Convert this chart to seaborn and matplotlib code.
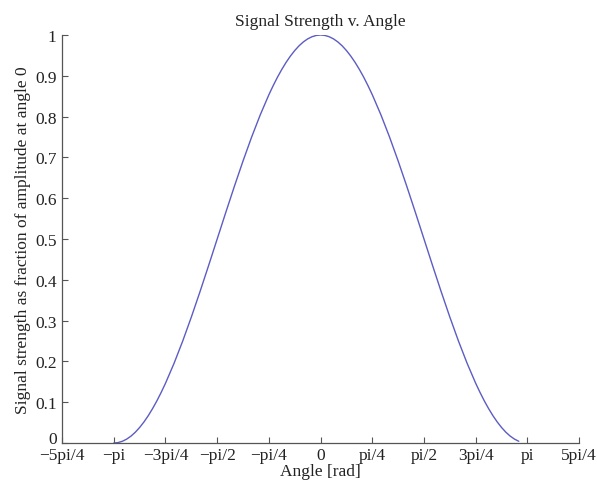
import numpy as np
import pandas as pd
import matplotlib
matplotlib.use("Agg")
import matplotlib.pyplot as plt
import matplotlib.transforms as mtransforms
import seaborn as sns

# Measured signal strength against angle (degrees); denser sampling
# where the curve bends most sharply
angle_deg = [-180, -176.25, -172.5, -168.75, -165, -161.25, -157.5, -153.75,
             -150, -146.25, -142.5, -138.75, -135,
             -127.5, -120, -112.5, -105, -97.5, -90, -82.5, -75, -67.5, -60,
             -52.5, -45,
             -41.25, -37.5, -33.75, -30, -26.25, -22.5, -18.75, -15, -11.25,
             -7.5, -3.75, 0,
             3.75, 7.5, 11.25, 15, 18.75, 22.5, 26.25, 30, 33.75, 37.5, 41.25, 45,
             52.5, 60, 67.5, 75, 82.5, 90, 97.5, 105, 112.5, 120, 127.5, 135,
             138.75, 142.5, 146.25, 150, 153.75, 157.5, 161.25, 165, 168.75, 172.5]
strength = [0.0, 0.0011, 0.0043, 0.0096, 0.0170, 0.0265, 0.0381, 0.0516,
            0.0670, 0.0843, 0.1033, 0.1241, 0.1464,
            0.1956, 0.25, 0.3087, 0.3706, 0.4347, 0.5, 0.5653, 0.6294, 0.6913, 0.75,
            0.8044, 0.8536,
            0.8759, 0.8967, 0.9157, 0.9330, 0.9484, 0.9619, 0.9735, 0.9830, 0.9904,
            0.9957, 0.9989, 1.0,
            0.9989, 0.9957, 0.9904, 0.9830, 0.9735, 0.9619, 0.9484, 0.9330, 0.9157,
            0.8967, 0.8759, 0.8536,
            0.8044, 0.75, 0.6913, 0.6294, 0.5653, 0.5, 0.4347, 0.3706, 0.3087, 0.25,
            0.1956, 0.1464,
            0.1241, 0.1033, 0.0843, 0.0670, 0.0516, 0.0381, 0.0265, 0.0170, 0.0096,
            0.0043]

x_tick_quarters = [-5, -4, -3, -2, -1, 0, 1, 2, 3, 4, 5]
x_tick_labels = ["\u22125pi/4", "\u2212pi", "\u22123pi/4", "\u2212pi/2", "\u2212pi/4",
                 "0", "pi/4", "pi/2", "3pi/4", "pi", "5pi/4"]
y_ticks = [0, 0.1, 0.2, 0.3, 0.4, 0.5, 0.6, 0.7, 0.8, 0.9, 1]
y_tick_labels = ["0", "0.1", "0.2", "0.3", "0.4", "0.5", "0.6", "0.7", "0.8", "0.9", "1"]

df = pd.DataFrame({"angle": np.deg2rad(angle_deg), "strength": strength})

sns.set_style("ticks")
plt.rcParams["font.family"] = ["Liberation Serif", "DejaVu Serif"]
plt.rcParams["axes.unicode_minus"] = True

FS = 12.5
fig = plt.figure(figsize=(5.97, 4.85), dpi=100)
ax = fig.add_axes([0.104, 0.0845, 0.866, 0.8413])

sns.lineplot(data=df, x="angle", y="strength", ax=ax, color="#5c5cc4",
             linewidth=1.0, sort=False)

ax.set_xlim(-5 * np.pi / 4, 5 * np.pi / 4)
ax.set_ylim(0, 1)
ax.set_xticks([q * np.pi / 4 for q in x_tick_quarters])
ax.set_xticklabels(x_tick_labels)
ax.set_yticks(y_ticks)
ax.set_yticklabels(y_tick_labels)

for side in ("top", "right"):
    ax.spines[side].set_visible(False)
for side in ("left", "bottom"):
    ax.spines[side].set_color("#555555")
    ax.spines[side].set_linewidth(0.9)

ax.tick_params(axis="both", direction="in", length=4, width=0.8,
               color="#555555", labelsize=FS, labelcolor="#222222")
ax.tick_params(axis="y", pad=4)
ax.tick_params(axis="x", pad=3)

# lift the bottom y label a little so it clears the corner x label
zero_label = ax.get_yticklabels()[0]
zero_label.set_transform(zero_label.get_transform() +
                         mtransforms.ScaledTranslation(0, 6 / 100, fig.dpi_scale_trans))

ax.set_title("Signal Strength v. Angle", fontsize=FS, color="#222222", pad=7)
ax.set_xlabel("Angle [rad]", fontsize=FS, color="#222222", labelpad=0)
ax.set_ylabel("Signal strength as fraction of amplitude at angle 0",
              fontsize=FS, color="#222222", labelpad=3)

fig.savefig("out.png", dpi=100)
